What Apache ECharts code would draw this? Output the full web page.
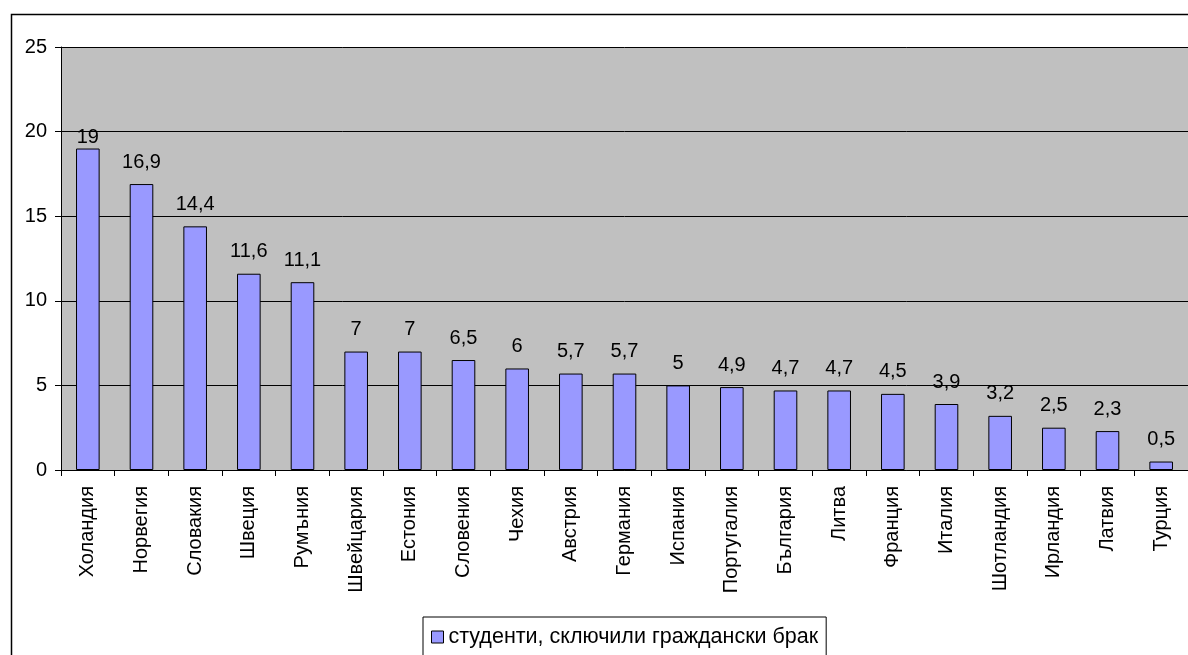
<!DOCTYPE html>
<html><head><meta charset="utf-8">
<script src="https://cdn.jsdelivr.net/npm/echarts@6/dist/echarts.min.js"></script>
<style>html,body{margin:0;padding:0;background:#fff}#c{width:1188px;height:655px}</style>
</head><body><div id="c"></div>
<script>
const categories = ['Холандия','Норвегия','Словакия','Швеция','Румъния','Швейцария','Естония','Словения','Чехия','Австрия','Германия','Испания','Португалия','България','Литва','Франция','Италия','Шотландия','Ирландия','Латвия','Турция'];
const values = [19,16.9,14.4,11.6,11.1,7,7,6.5,6,5.7,5.7,5,4.9,4.7,4.7,4.5,3.9,3.2,2.5,2.3,0.5];
const seriesName = 'студенти, сключили граждански брак';
const yTicks = [0,5,10,15,20,25];

const chart = echarts.init(document.getElementById('c'), null, {renderer:'canvas'});
const font = 'Liberation Sans, Arial, sans-serif';
const barData = values.map((v,i)=> i===0 ? {value:v,label:{distance:1}} : v);
chart.setOption({
  animation:false,
  textStyle:{fontFamily:font},
  graphic:[{type:'rect',left:9,top:12,shape:{width:1200,height:660},style:{fill:null,stroke:'#000',lineWidth:1.5},z:-10}],
  grid:{left:61,top:47,width:1132,height:423,backgroundColor:'#C0C0C0',show:true,borderWidth:0},
  xAxis:{type:'category',data:categories,
    axisLine:{lineStyle:{color:'#000',width:1}},
    axisTick:{show:true,length:6,lineStyle:{color:'#000'}},
    axisLabel:{rotate:90,color:'#000',fontSize:20,fontFamily:font,margin:16,interval:0}},
  yAxis:{type:'value',min:yTicks[0],max:yTicks[yTicks.length-1],interval:5,
    axisLine:{show:true,lineStyle:{color:'#000'}},
    axisTick:{show:true,length:6,lineStyle:{color:'#000'}},
    axisLabel:{color:'#000',fontSize:20,fontFamily:font,margin:14},
    splitLine:{show:true,lineStyle:{color:'#000',width:1}}},
  legend:{left:423,top:617,itemWidth:12,itemHeight:12,itemGap:6,
    padding:[9,8,20,8],borderColor:'#000',borderWidth:1,backgroundColor:'#fff',
    textStyle:{fontSize:21.5,color:'#000',fontFamily:font},
    data:[{name:seriesName,icon:'rect',itemStyle:{borderColor:'#000',borderWidth:1}}]},
  series:[{type:'bar',name:seriesName,data:barData,barWidth:'44%',
    itemStyle:{color:'#9999FF',borderColor:'#000',borderWidth:1},
    label:{show:true,position:'top',color:'#000',fontSize:20,fontFamily:font,distance:12,
      formatter:p=>String(p.value).replace('.',',')}}]
});
</script></body></html>
